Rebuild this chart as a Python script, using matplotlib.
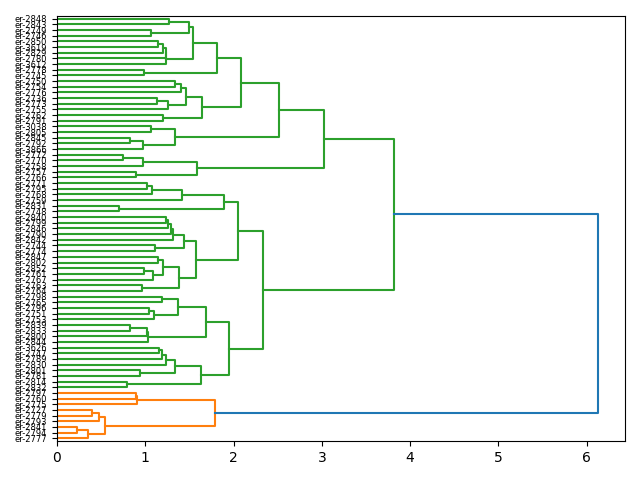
import matplotlib
matplotlib.use('Agg')
import matplotlib.pyplot as plt

# leaf labels, top to bottom as drawn
leaves = [
    'er-2848', 'er-2843', 'er-2749', 'er-2746', 'er-2850', 'er-3619', 'er-2829', 'er-2780',
    'er-3612', 'er-2778', 'er-2745', 'er-2750', 'er-2754', 'er-2776', 'er-2736', 'er-2773',
    'er-2755', 'er-2762', 'er-2791', 'er-3038', 'er-2805', 'er-2845', 'er-2792', 'er-3866',
    'er-2772', 'er-2770', 'er-2758', 'er-2757', 'er-2766', 'er-2771', 'er-2795', 'er-2768',
    'er-2759', 'er-2831', 'er-2748', 'er-2840', 'er-2799', 'er-2846', 'er-2790', 'er-2842',
    'er-2744', 'er-2774', 'er-2847', 'er-2802', 'er-2852', 'er-2761', 'er-2767', 'er-2763',
    'er-2764', 'er-2798', 'er-2765', 'er-2796', 'er-2751', 'er-2753', 'er-2839', 'er-2833',
    'er-2800', 'er-2844', 'er-3626', 'er-2747', 'er-2789', 'er-2830', 'er-2801', 'er-2781',
    'er-2814', 'er-2832', 'er-2797', 'er-2760', 'er-2775', 'er-2727', 'er-2779', 'er-2793',
    'er-2841', 'er-2794', 'er-2777',
]

# merges: (left, right, distance); strings are leaves, ints are earlier merges
merges = [
    ('er-2848', 'er-2843', 1.27),   # 0
    ('er-2749', 'er-2746', 1.065),  # 1
    (0, 1, 1.50),                   # 2
    ('er-2850', 'er-3619', 1.14),   # 3
    (3, 'er-2829', 1.20),           # 4
    (4, 'er-2780', 1.23),           # 5
    (5, 'er-3612', 1.24),           # 6
    (2, 6, 1.54),                   # 7
    ('er-2778', 'er-2745', 0.985),  # 8
    (7, 8, 1.81),                   # 9
    ('er-2750', 'er-2754', 1.335),  # 10
    (10, 'er-2776', 1.40),          # 11
    ('er-2736', 'er-2773', 1.13),   # 12
    (12, 'er-2755', 1.26),          # 13
    (11, 13, 1.46),                 # 14
    ('er-2762', 'er-2791', 1.20),   # 15
    (14, 15, 1.64),                 # 16
    (9, 16, 2.09),                  # 17
    ('er-3038', 'er-2805', 1.065),  # 18
    ('er-2845', 'er-2792', 0.83),   # 19
    (19, 'er-3866', 0.98),          # 20
    (18, 20, 1.34),                 # 21
    (17, 21, 2.51),                 # 22
    ('er-2772', 'er-2770', 0.75),   # 23
    (23, 'er-2758', 0.98),          # 24
    ('er-2757', 'er-2766', 0.895),  # 25
    (24, 25, 1.59),                 # 26
    (22, 26, 3.03),                 # 27
    ('er-2771', 'er-2795', 1.02),   # 28
    (28, 'er-2768', 1.075),         # 29
    (29, 'er-2759', 1.415),         # 30
    ('er-2831', 'er-2748', 0.70),   # 31
    (30, 31, 1.89),                 # 32
    ('er-2840', 'er-2799', 1.23),   # 33
    (33, 'er-2846', 1.26),          # 34
    (34, 'er-2790', 1.29),          # 35
    (35, 'er-2842', 1.31),          # 36
    ('er-2744', 'er-2774', 1.11),   # 37
    (36, 37, 1.44),                 # 38
    ('er-2847', 'er-2802', 1.147),  # 39
    ('er-2852', 'er-2761', 0.985),  # 40
    (40, 'er-2767', 1.09),          # 41
    (39, 41, 1.197),                # 42
    ('er-2763', 'er-2764', 0.966),  # 43
    (42, 43, 1.385),                # 44
    (38, 44, 1.57),                 # 45
    (32, 45, 2.05),                 # 46
    ('er-2798', 'er-2765', 1.185),  # 47
    ('er-2796', 'er-2751', 1.04),   # 48
    (48, 'er-2753', 1.095),         # 49
    (47, 49, 1.367),                # 50
    ('er-2839', 'er-2833', 0.827),  # 51
    (51, 'er-2800', 1.02),          # 52
    (52, 'er-2844', 1.034),         # 53
    (50, 53, 1.69),                 # 54
    ('er-3626', 'er-2747', 1.155),  # 55
    (55, 'er-2789', 1.185),         # 56
    (56, 'er-2830', 1.23),          # 57
    ('er-2801', 'er-2781', 0.94),   # 58
    (57, 58, 1.336),                # 59
    ('er-2814', 'er-2832', 0.79),   # 60
    (59, 60, 1.63),                 # 61
    (54, 61, 1.944),                # 62
    (46, 62, 2.33),                 # 63
    (27, 63, 3.82),                 # 64
    ('er-2797', 'er-2760', 0.89),   # 65
    (65, 'er-2775', 0.91),          # 66
    ('er-2727', 'er-2779', 0.40),   # 67
    (67, 'er-2793', 0.476),         # 68
    ('er-2841', 'er-2794', 0.23),   # 69
    (69, 'er-2777', 0.35),          # 70
    (68, 70, 0.547),                # 71
    (66, 71, 1.79),                 # 72
    (64, 72, 6.13),                 # 73
]

cluster_colors = ['C1', 'C2']

n = len(leaves)
leaf_y = {name: 10 * (n - 1 - i) + 5 for i, name in enumerate(leaves)}
node_y = {}
parent = {}

def pos(ref):
    if isinstance(ref, str):
        return leaf_y[ref], 0.0
    return node_y[ref], merges[ref][2]

for k, (a, b, h) in enumerate(merges):
    node_y[k] = (pos(a)[0] + pos(b)[0]) / 2
    for ch in (a, b):
        if not isinstance(ch, str):
            parent[ch] = k

thr = 0.7 * max(m[2] for m in merges)
colors = {k: 'C0' for k in range(len(merges))}

def paint(k, c):
    colors[k] = c
    for ch in merges[k][:2]:
        if not isinstance(ch, str):
            paint(ch, c)

tops = [k for k in range(len(merges))
        if merges[k][2] <= thr and (k not in parent or merges[parent[k]][2] > thr)]
tops.sort(key=lambda k: node_y[k])
for i, k in enumerate(tops):
    paint(k, cluster_colors[i % len(cluster_colors)])

fig, ax = plt.subplots(figsize=(6.4, 4.8), dpi=100)
fig.subplots_adjust(left=0.089, right=0.977, top=0.967, bottom=0.081)

for k, (a, b, h) in enumerate(merges):
    ya, ha = pos(a)
    yb, hb = pos(b)
    ax.plot([ha, h, h, hb], [ya, ya, yb, yb], color=colors[k], lw=1.5)

ax.set_xlim(0, max(m[2] for m in merges) * 1.05)
ax.set_ylim(0, 10 * n)
ax.set_yticks([leaf_y[l] for l in leaves])
ax.set_yticklabels(leaves, fontsize=6)

fig.savefig('out.png')
